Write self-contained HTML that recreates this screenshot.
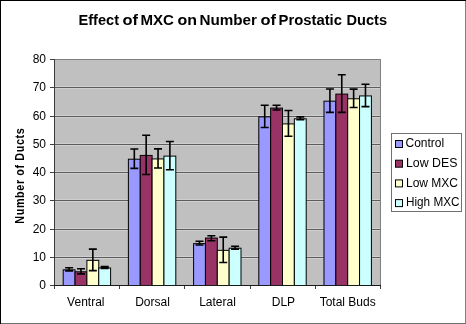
<!DOCTYPE html>
<html><head><meta charset="utf-8"><style>
html,body{margin:0;padding:0;background:#fff;}
body{width:466px;height:324px;overflow:hidden;position:relative;}
svg{position:absolute;left:0;top:0;font-family:"Liberation Sans", sans-serif;will-change:transform;}
</style></head><body>
<svg width="466" height="324" viewBox="0 0 466 324">
<rect x="0" y="0" width="466" height="324" fill="#fff"/>
<rect x="0.5" y="0.5" width="465" height="323" fill="none" stroke="#000" stroke-width="1"/>
<line x1="465.5" y1="1" x2="465.5" y2="324" stroke="#808080" stroke-width="1"/>
<line x1="1" y1="323.5" x2="466" y2="323.5" stroke="#707070" stroke-width="1"/>
<rect x="54.0" y="59.0" width="326.0" height="226.0" fill="#C0C0C0"/>
<line x1="54.0" x2="380.0" y1="256.50" y2="256.50" stroke="#d0d0d0" stroke-width="1"/>
<line x1="54.0" x2="380.0" y1="258.50" y2="258.50" stroke="#d0d0d0" stroke-width="1"/>
<line x1="54.0" x2="380.0" y1="257.50" y2="257.50" stroke="#5c5c5c" stroke-width="1"/>
<line x1="54.0" x2="380.0" y1="228.50" y2="228.50" stroke="#d0d0d0" stroke-width="1"/>
<line x1="54.0" x2="380.0" y1="230.50" y2="230.50" stroke="#d0d0d0" stroke-width="1"/>
<line x1="54.0" x2="380.0" y1="229.50" y2="229.50" stroke="#5c5c5c" stroke-width="1"/>
<line x1="54.0" x2="380.0" y1="199.50" y2="199.50" stroke="#d0d0d0" stroke-width="1"/>
<line x1="54.0" x2="380.0" y1="201.50" y2="201.50" stroke="#d0d0d0" stroke-width="1"/>
<line x1="54.0" x2="380.0" y1="200.50" y2="200.50" stroke="#5c5c5c" stroke-width="1"/>
<line x1="54.0" x2="380.0" y1="171.50" y2="171.50" stroke="#d0d0d0" stroke-width="1"/>
<line x1="54.0" x2="380.0" y1="173.50" y2="173.50" stroke="#d0d0d0" stroke-width="1"/>
<line x1="54.0" x2="380.0" y1="172.50" y2="172.50" stroke="#5c5c5c" stroke-width="1"/>
<line x1="54.0" x2="380.0" y1="143.50" y2="143.50" stroke="#d0d0d0" stroke-width="1"/>
<line x1="54.0" x2="380.0" y1="145.50" y2="145.50" stroke="#d0d0d0" stroke-width="1"/>
<line x1="54.0" x2="380.0" y1="144.50" y2="144.50" stroke="#5c5c5c" stroke-width="1"/>
<line x1="54.0" x2="380.0" y1="115.50" y2="115.50" stroke="#d0d0d0" stroke-width="1"/>
<line x1="54.0" x2="380.0" y1="117.50" y2="117.50" stroke="#d0d0d0" stroke-width="1"/>
<line x1="54.0" x2="380.0" y1="116.50" y2="116.50" stroke="#5c5c5c" stroke-width="1"/>
<line x1="54.0" x2="380.0" y1="86.50" y2="86.50" stroke="#d0d0d0" stroke-width="1"/>
<line x1="54.0" x2="380.0" y1="88.50" y2="88.50" stroke="#d0d0d0" stroke-width="1"/>
<line x1="54.0" x2="380.0" y1="87.50" y2="87.50" stroke="#5c5c5c" stroke-width="1"/>
<line x1="54.0" x2="380.5" y1="59.5" y2="59.5" stroke="#808080" stroke-width="1"/>
<line x1="380.5" x2="380.5" y1="59.0" y2="285.0" stroke="#808080" stroke-width="1"/>
<rect x="63.19" y="269.82" width="11.85" height="15.68" fill="#9999FF" stroke="#000" stroke-width="1"/>
<rect x="75.05" y="271.80" width="11.85" height="13.70" fill="#993366" stroke="#000" stroke-width="1"/>
<rect x="86.90" y="260.36" width="11.85" height="25.14" fill="#FFFFCC" stroke="#000" stroke-width="1"/>
<rect x="98.75" y="267.99" width="11.85" height="17.51" fill="#CCFFFF" stroke="#000" stroke-width="1"/>
<rect x="128.39" y="159.22" width="11.85" height="126.28" fill="#9999FF" stroke="#000" stroke-width="1"/>
<rect x="140.25" y="155.41" width="11.85" height="130.09" fill="#993366" stroke="#000" stroke-width="1"/>
<rect x="152.10" y="158.94" width="11.85" height="126.56" fill="#FFFFCC" stroke="#000" stroke-width="1"/>
<rect x="163.95" y="156.12" width="11.85" height="129.38" fill="#CCFFFF" stroke="#000" stroke-width="1"/>
<rect x="193.59" y="243.61" width="11.85" height="41.89" fill="#9999FF" stroke="#000" stroke-width="1"/>
<rect x="205.45" y="238.04" width="11.85" height="47.46" fill="#993366" stroke="#000" stroke-width="1"/>
<rect x="217.30" y="250.33" width="11.85" height="35.17" fill="#FFFFCC" stroke="#000" stroke-width="1"/>
<rect x="229.15" y="248.21" width="11.85" height="37.29" fill="#CCFFFF" stroke="#000" stroke-width="1"/>
<rect x="258.79" y="116.85" width="11.85" height="168.65" fill="#9999FF" stroke="#000" stroke-width="1"/>
<rect x="270.65" y="108.09" width="11.85" height="177.41" fill="#993366" stroke="#000" stroke-width="1"/>
<rect x="282.50" y="123.91" width="11.85" height="161.59" fill="#FFFFCC" stroke="#000" stroke-width="1"/>
<rect x="294.35" y="118.82" width="11.85" height="166.68" fill="#CCFFFF" stroke="#000" stroke-width="1"/>
<rect x="323.99" y="101.17" width="11.85" height="184.33" fill="#9999FF" stroke="#000" stroke-width="1"/>
<rect x="335.85" y="94.11" width="11.85" height="191.39" fill="#993366" stroke="#000" stroke-width="1"/>
<rect x="347.70" y="98.77" width="11.85" height="186.73" fill="#FFFFCC" stroke="#000" stroke-width="1"/>
<rect x="359.55" y="95.94" width="11.85" height="189.56" fill="#CCFFFF" stroke="#000" stroke-width="1"/>
<path d="M65.12 267.77H73.12M69.12 267.77V270.88M65.12 270.88H73.12" stroke="#000" stroke-width="1.6" fill="none"/>
<path d="M76.97 268.76H84.97M80.97 268.76V273.84M76.97 273.84H84.97" stroke="#000" stroke-width="1.6" fill="none"/>
<path d="M88.83 249.12H96.83M92.83 249.12V270.59M88.83 270.59H96.83" stroke="#000" stroke-width="1.6" fill="none"/>
<path d="M100.68 266.64H108.68M104.68 266.64V268.33M100.68 268.33H108.68" stroke="#000" stroke-width="1.6" fill="none"/>
<path d="M130.32 149.06H138.32M134.32 149.06V168.38M130.32 168.38H138.32" stroke="#000" stroke-width="1.6" fill="none"/>
<path d="M142.17 135.28H150.17M146.17 135.28V174.54M142.17 174.54H150.17" stroke="#000" stroke-width="1.6" fill="none"/>
<path d="M154.03 148.84H162.03M158.03 148.84V168.05M154.03 168.05H162.03" stroke="#000" stroke-width="1.6" fill="none"/>
<path d="M165.88 141.49H173.88M169.88 141.49V169.74M165.88 169.74H173.88" stroke="#000" stroke-width="1.6" fill="none"/>
<path d="M195.52 241.27H203.52M199.52 241.27V244.94M195.52 244.94H203.52" stroke="#000" stroke-width="1.6" fill="none"/>
<path d="M207.37 235.70H215.37M211.37 235.70V240.79M207.37 240.79H215.37" stroke="#000" stroke-width="1.6" fill="none"/>
<path d="M219.23 237.12H227.23M223.23 237.12V262.54M219.23 262.54H227.23" stroke="#000" stroke-width="1.6" fill="none"/>
<path d="M231.08 246.30H239.08M235.08 246.30V249.12M231.08 249.12H239.08" stroke="#000" stroke-width="1.6" fill="none"/>
<path d="M260.72 105.25H268.72M264.72 105.25V127.45M260.72 127.45H268.72" stroke="#000" stroke-width="1.6" fill="none"/>
<path d="M272.57 105.19H280.57M276.57 105.19V109.99M272.57 109.99H280.57" stroke="#000" stroke-width="1.6" fill="none"/>
<path d="M284.43 110.56H292.43M288.43 110.56V136.26M284.43 136.26H292.43" stroke="#000" stroke-width="1.6" fill="none"/>
<path d="M296.28 116.91H304.28M300.28 116.91V119.74M296.28 119.74H304.28" stroke="#000" stroke-width="1.6" fill="none"/>
<path d="M325.92 88.94H333.92M329.92 88.94V112.39M325.92 112.39H333.92" stroke="#000" stroke-width="1.6" fill="none"/>
<path d="M337.77 74.82H345.77M341.77 74.82V112.39M337.77 112.39H345.77" stroke="#000" stroke-width="1.6" fill="none"/>
<path d="M349.63 89.09H357.63M353.63 89.09V107.45M349.63 107.45H357.63" stroke="#000" stroke-width="1.6" fill="none"/>
<path d="M361.48 84.28H369.48M365.48 84.28V106.60M361.48 106.60H369.48" stroke="#000" stroke-width="1.6" fill="none"/>
<line x1="54.5" x2="54.5" y1="59.0" y2="286.0" stroke="#3a3a3a" stroke-width="1"/>
<line x1="54.0" x2="381.0" y1="285.5" y2="285.5" stroke="#1a1a1a" stroke-width="1"/>
<line x1="50" x2="54.0" y1="285.5" y2="285.5" stroke="#404040" stroke-width="1"/>
<text x="46" y="288.80" text-anchor="end" font-size="12">0</text>
<line x1="50" x2="54.0" y1="257.5" y2="257.5" stroke="#404040" stroke-width="1"/>
<text x="46" y="260.80" text-anchor="end" font-size="12">10</text>
<line x1="50" x2="54.0" y1="229.5" y2="229.5" stroke="#404040" stroke-width="1"/>
<text x="46" y="232.80" text-anchor="end" font-size="12">20</text>
<line x1="50" x2="54.0" y1="200.5" y2="200.5" stroke="#404040" stroke-width="1"/>
<text x="46" y="203.80" text-anchor="end" font-size="12">30</text>
<line x1="50" x2="54.0" y1="172.5" y2="172.5" stroke="#404040" stroke-width="1"/>
<text x="46" y="175.80" text-anchor="end" font-size="12">40</text>
<line x1="50" x2="54.0" y1="144.5" y2="144.5" stroke="#404040" stroke-width="1"/>
<text x="46" y="147.80" text-anchor="end" font-size="12">50</text>
<line x1="50" x2="54.0" y1="116.5" y2="116.5" stroke="#404040" stroke-width="1"/>
<text x="46" y="119.80" text-anchor="end" font-size="12">60</text>
<line x1="50" x2="54.0" y1="87.5" y2="87.5" stroke="#404040" stroke-width="1"/>
<text x="46" y="90.80" text-anchor="end" font-size="12">70</text>
<line x1="50" x2="54.0" y1="59.5" y2="59.5" stroke="#404040" stroke-width="1"/>
<text x="46" y="62.80" text-anchor="end" font-size="12">80</text>
<line x1="54.5" x2="54.5" y1="286.0" y2="289.0" stroke="#404040" stroke-width="1"/>
<line x1="119.5" x2="119.5" y1="286.0" y2="289.0" stroke="#404040" stroke-width="1"/>
<line x1="184.5" x2="184.5" y1="286.0" y2="289.0" stroke="#404040" stroke-width="1"/>
<line x1="250.5" x2="250.5" y1="286.0" y2="289.0" stroke="#404040" stroke-width="1"/>
<line x1="315.5" x2="315.5" y1="286.0" y2="289.0" stroke="#404040" stroke-width="1"/>
<line x1="380.5" x2="380.5" y1="286.0" y2="289.0" stroke="#404040" stroke-width="1"/>
<text x="85.80" y="306" text-anchor="middle" font-size="12">Ventral</text>
<text x="152.50" y="306" text-anchor="middle" font-size="12">Dorsal</text>
<text x="217.50" y="306" text-anchor="middle" font-size="12">Lateral</text>
<text x="283.40" y="306" text-anchor="middle" font-size="12">DLP</text>
<text x="347.70" y="306" text-anchor="middle" font-size="12">Total Buds</text>
<g font-size="14" font-weight="bold">
<text x="78.500" y="25" textLength="40.500" lengthAdjust="spacingAndGlyphs">Effect</text>
<text x="122.500" y="25" textLength="15.500" lengthAdjust="spacingAndGlyphs">of</text>
<text x="140.500" y="25" textLength="33.500" lengthAdjust="spacingAndGlyphs">MXC</text>
<text x="177.500" y="25" textLength="19.500" lengthAdjust="spacingAndGlyphs">on</text>
<text x="199.500" y="25" textLength="57.500" lengthAdjust="spacingAndGlyphs">Number</text>
<text x="260.500" y="25" textLength="15.500" lengthAdjust="spacingAndGlyphs">of</text>
<text x="278.500" y="25" textLength="63.500" lengthAdjust="spacingAndGlyphs">Prostatic</text>
<text x="346.500" y="25" textLength="40.500" lengthAdjust="spacingAndGlyphs">Ducts</text>
</g>
<text transform="translate(24,176) rotate(-90) scale(0.9,1)" text-anchor="middle" font-size="12" font-weight="bold" textLength="106" lengthAdjust="spacing">Number of Ducts</text>
<rect x="391.5" y="133.5" width="70" height="78" fill="#fff" stroke="#707070" stroke-width="1"/>
<rect x="395.5" y="140.50" width="7" height="7" fill="#9999FF" stroke="#000" stroke-width="1"/>
<text x="405.5" y="146.8" font-size="12" textLength="38.7" lengthAdjust="spacingAndGlyphs">Control</text>
<rect x="395.5" y="160.20" width="7" height="7" fill="#993366" stroke="#000" stroke-width="1"/>
<text x="406" y="167" font-size="12" textLength="51.5" lengthAdjust="spacingAndGlyphs">Low DES</text>
<rect x="395.5" y="179.90" width="7" height="7" fill="#FFFFCC" stroke="#000" stroke-width="1"/>
<text x="406" y="186.5" font-size="12" textLength="52" lengthAdjust="spacingAndGlyphs">Low MXC</text>
<rect x="395.5" y="199.60" width="7" height="7" fill="#CCFFFF" stroke="#000" stroke-width="1"/>
<text x="406" y="205.5" font-size="12" textLength="53.5" lengthAdjust="spacingAndGlyphs">High MXC</text>
</svg>
</body></html>
